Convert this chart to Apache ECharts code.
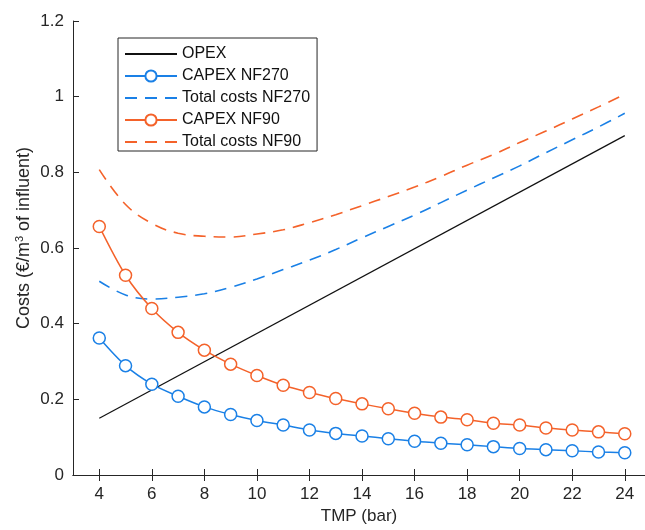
<!DOCTYPE html>
<html>
<head>
<meta charset="utf-8">
<script src="https://cdn.jsdelivr.net/npm/echarts@6/dist/echarts.min.js"></script>
<style>
  html, body { margin: 0; padding: 0; background: #fff; }
  #chart { width: 645px; height: 530px; }
</style>
</head>
<body>
<div id="chart"></div>
<script>
const tmp = [4, 5, 6, 7, 8, 9, 10, 11, 12, 13, 14, 15, 16, 17, 18, 19, 20, 21, 22, 23, 24]
const xTicks = [4, 6, 8, 10, 12, 14, 16, 18, 20, 22, 24]

const opexX = [4, 24]
const opex = [0.150, 0.897]
const capexNF270 = [0.362, 0.289, 0.240, 0.208, 0.180, 0.160, 0.144, 0.132, 0.119, 0.110, 0.103,
  0.096, 0.089, 0.084, 0.080, 0.075, 0.070, 0.067, 0.064, 0.061, 0.059]
const totalNF270 = [0.512, 0.476, 0.465, 0.470, 0.479, 0.496, 0.518, 0.543, 0.568, 0.596, 0.627,
  0.657, 0.687, 0.720, 0.753, 0.785, 0.817, 0.852, 0.886, 0.920, 0.956]
const capexNF90 = [0.657, 0.528, 0.440, 0.377, 0.330, 0.293, 0.263, 0.237, 0.218, 0.202, 0.188,
  0.175, 0.163, 0.153, 0.146, 0.137, 0.132, 0.124, 0.119, 0.114, 0.109]
const totalNF90 = [0.807, 0.715, 0.665, 0.639, 0.631, 0.629, 0.637, 0.648, 0.667, 0.688, 0.712,
  0.736, 0.761, 0.789, 0.819, 0.847, 0.879, 0.909, 0.941, 0.973, 1.006]

const BLUE = '#1a80e6'
const ORANGE = '#f4622a'
const INK = '#262626'
const FONT = 'Liberation Sans'

const pairs = (xs, ys) => xs.map((x, i) => [x, ys[i]])

const chart = echarts.init(document.getElementById('chart'))

// the original plot box runs to x = 25, just past the picture's right edge
const X_MAX = 24.77

chart.setOption({
  backgroundColor: '#fff',
  animation: false,
  textStyle: { fontFamily: FONT },
  grid: { left: 73, right: 0, top: 21, bottom: 54 },
  legend: {
    orient: 'vertical',
    left: 118, top: 38,
    padding: [8, 7, 1, 6],
    itemWidth: 52, itemHeight: 14, itemGap: 6,
    borderColor: INK, borderWidth: 1,
    backgroundColor: '#fff',
    textStyle: { fontSize: 16, color: '#111', fontFamily: FONT },
    data: [
      { name: 'OPEX', itemStyle: { opacity: 0 } },
      { name: 'CAPEX NF270' },
      { name: 'Total costs NF270', itemStyle: { opacity: 0 } },
      { name: 'CAPEX NF90' },
      { name: 'Total costs NF90', itemStyle: { opacity: 0 } },
    ],
  },
  xAxis: [{
    type: 'value', min: 3, max: X_MAX,
    name: 'TMP (bar)', nameLocation: 'middle', nameGap: 33,
    nameTextStyle: { fontSize: 17, color: INK },
    axisLine: { show: true, onZero: false, lineStyle: { color: INK } },
    axisTick: { inside: true, length: 6, customValues: xTicks, lineStyle: { color: INK } },
    axisLabel: { customValues: xTicks, fontSize: 17, color: INK, margin: 11 },
    splitLine: { show: false },
  }, {
    type: 'value', min: 3, max: X_MAX, position: 'top',
    axisLine: { show: true, lineStyle: { color: INK } },
    axisTick: { inside: true, length: 6, customValues: xTicks, lineStyle: { color: INK } },
    axisLabel: { show: false },
    splitLine: { show: false },
  }],
  yAxis: {
    type: 'value', min: 0, max: 1.2, interval: 0.2,
    name: 'Costs (€/m{sup|3} of influent)', nameLocation: 'middle', nameGap: 39, nameRotate: 90,
    nameMoveOverlap: false,
    nameTextStyle: {
      fontSize: 18, color: INK, padding: [0, 0, 0, 20],
      rich: { sup: { fontSize: 11, verticalAlign: 'top', padding: [0, 0, 9, 0], color: INK } },
    },
    axisLine: { show: true, lineStyle: { color: INK } },
    axisTick: { show: true, inside: true, length: 6, lineStyle: { color: INK } },
    axisLabel: { fontSize: 17, color: INK, margin: 9 },
    splitLine: { show: false },
  },
  series: [
    {
      name: 'OPEX', type: 'line', data: pairs(opexX, opex),
      symbol: 'none', itemStyle: { color: '#111' },
      lineStyle: { color: '#111', width: 1.2 },
    },
    {
      name: 'CAPEX NF270', type: 'line', data: pairs(tmp, capexNF270), smooth: 0.3,
      symbol: 'circle', symbolSize: 12,
      itemStyle: { color: '#fff', borderColor: BLUE, borderWidth: 1.5 },
      lineStyle: { color: BLUE, width: 1.5 },
    },
    {
      name: 'Total costs NF270', type: 'line', data: pairs(tmp, totalNF270), smooth: 0.4,
      symbol: 'none', itemStyle: { color: BLUE },
      lineStyle: { color: BLUE, width: 1.6, type: [12, 8] },
    },
    {
      name: 'CAPEX NF90', type: 'line', data: pairs(tmp, capexNF90), smooth: 0.3,
      symbol: 'circle', symbolSize: 12,
      itemStyle: { color: '#fff', borderColor: ORANGE, borderWidth: 1.5 },
      lineStyle: { color: ORANGE, width: 1.5 },
    },
    {
      name: 'Total costs NF90', type: 'line', data: pairs(tmp, totalNF90), smooth: 0.4,
      symbol: 'none', itemStyle: { color: ORANGE },
      lineStyle: { color: ORANGE, width: 1.6, type: [12, 8] },
    },
  ],
})
</script>
</body>
</html>
